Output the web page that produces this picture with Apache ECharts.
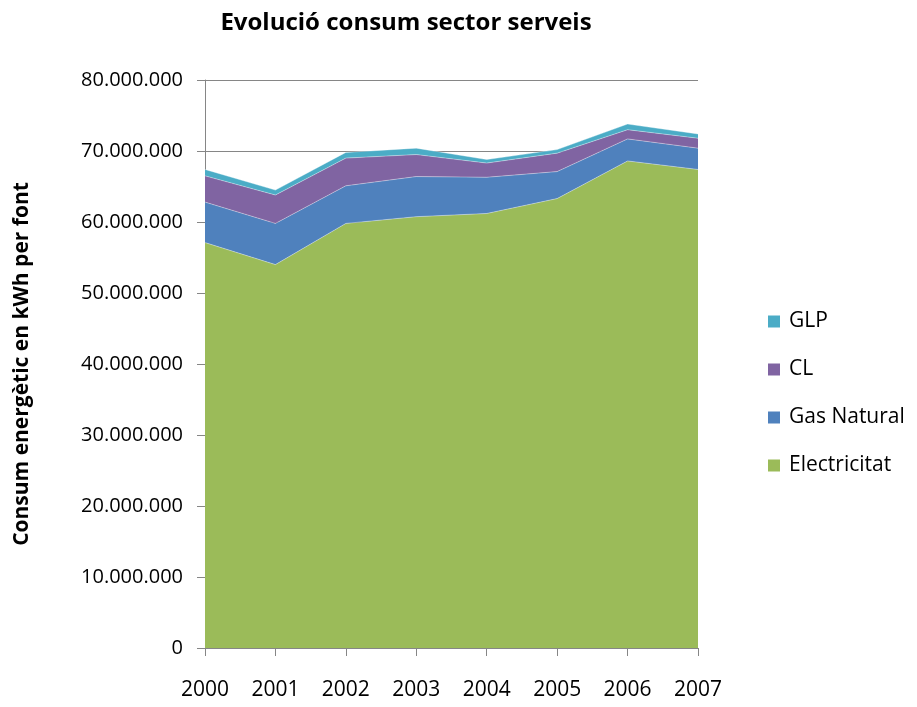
<!DOCTYPE html>
<html>
<head>
<meta charset="utf-8">
<script src="https://cdn.jsdelivr.net/npm/echarts@6/dist/echarts.min.js"></script>
<style>
  html, body { margin: 0; padding: 0; background: #fff; }
  #chart { width: 917px; height: 707px; }
</style>
</head>
<body>
<div id="chart"></div>
<script>
// Years on the category axis
var years = ['2000', '2001', '2002', '2003', '2004', '2005', '2006', '2007'];

// Consumption per energy source, kWh
var electricitat = [57100000, 54000000, 59800000, 60750000, 61200000, 63300000, 68600000, 67400000];
var gasNatural   = [5700000, 5800000, 5300000, 5650000, 5100000, 3800000, 3100000, 3000000];
var cl           = [3700000, 4000000, 3900000, 3100000, 2000000, 2600000, 1300000, 1400000];
var glp          = [900000, 700000, 800000, 900000, 500000, 500000, 800000, 600000];

// Value-axis ticks
var yTicks = [0, 10000000, 20000000, 30000000, 40000000, 50000000, 60000000, 70000000, 80000000];

var FONT = 'Open Sans';

function fmt(v) {
  if (v === 0) return '0';
  return String(Math.round(v)).replace(/\B(?=(\d{3})+(?!\d))/g, '.');
}

function areaSeries(name, data, color) {
  return {
    name: name,
    type: 'line',
    stack: 'total',
    data: data,
    symbol: 'none',
    lineStyle: { width: 0.6, color: 'rgba(255,255,255,0.6)' },
    areaStyle: { color: color, opacity: 1 },
    itemStyle: { color: color },
    emphasis: { disabled: true }
  };
}

var chart = echarts.init(document.getElementById('chart'), null, { renderer: 'canvas' });
chart.setOption({
  animation: false,
  backgroundColor: '#ffffff',
  title: {
    text: 'Evolució consum sector serveis',
    left: 401,
    top: 6,
    textAlign: 'center',
    textStyle: { fontFamily: FONT, fontSize: 24, fontWeight: 'bold', color: '#000' }
  },
  legend: {
    orient: 'vertical',
    left: 763,
    top: 306,
    itemWidth: 12,
    itemHeight: 12,
    itemGap: 27,
    icon: 'rect',
    data: ['GLP', 'CL', 'Gas Natural', 'Electricitat'],
    textStyle: { fontFamily: FONT, fontSize: 21, color: '#000', padding: [0, 0, 0, 4] }
  },
  grid: { left: 205, right: 219, top: 80, bottom: 59, containLabel: false, outerBoundsMode: 'none' },
  xAxis: {
    type: 'category',
    data: years,
    boundaryGap: false,
    axisLine: { lineStyle: { color: '#868686', width: 1 } },
    axisTick: { show: true, length: 8, lineStyle: { color: '#868686' } },
    axisLabel: { fontFamily: FONT, fontSize: 21, color: '#000', margin: 32 },
    splitLine: { show: false }
  },
  yAxis: {
    type: 'value',
    min: yTicks[0],
    max: yTicks[yTicks.length - 1],
    interval: yTicks[1] - yTicks[0],
    name: 'Consum energètic en kWh per font',
    nameLocation: 'middle',
    nameGap: 172,
    nameTextStyle: { fontFamily: FONT, fontSize: 21, fontWeight: 'bold', color: '#000' },
    axisLine: { show: true, lineStyle: { color: '#868686', width: 1 } },
    axisTick: { show: true, length: 8, lineStyle: { color: '#868686' } },
    axisLabel: { fontFamily: FONT, fontSize: 20, color: '#000', margin: 22, formatter: fmt },
    splitLine: { show: true, lineStyle: { color: '#868686', width: 1 } }
  },
  series: [
    areaSeries('Electricitat', electricitat, '#9BBB59'),
    areaSeries('Gas Natural', gasNatural, '#4F81BD'),
    areaSeries('CL', cl, '#8064A2'),
    areaSeries('GLP', glp, '#4BACC6')
  ]
});
</script>
</body>
</html>
